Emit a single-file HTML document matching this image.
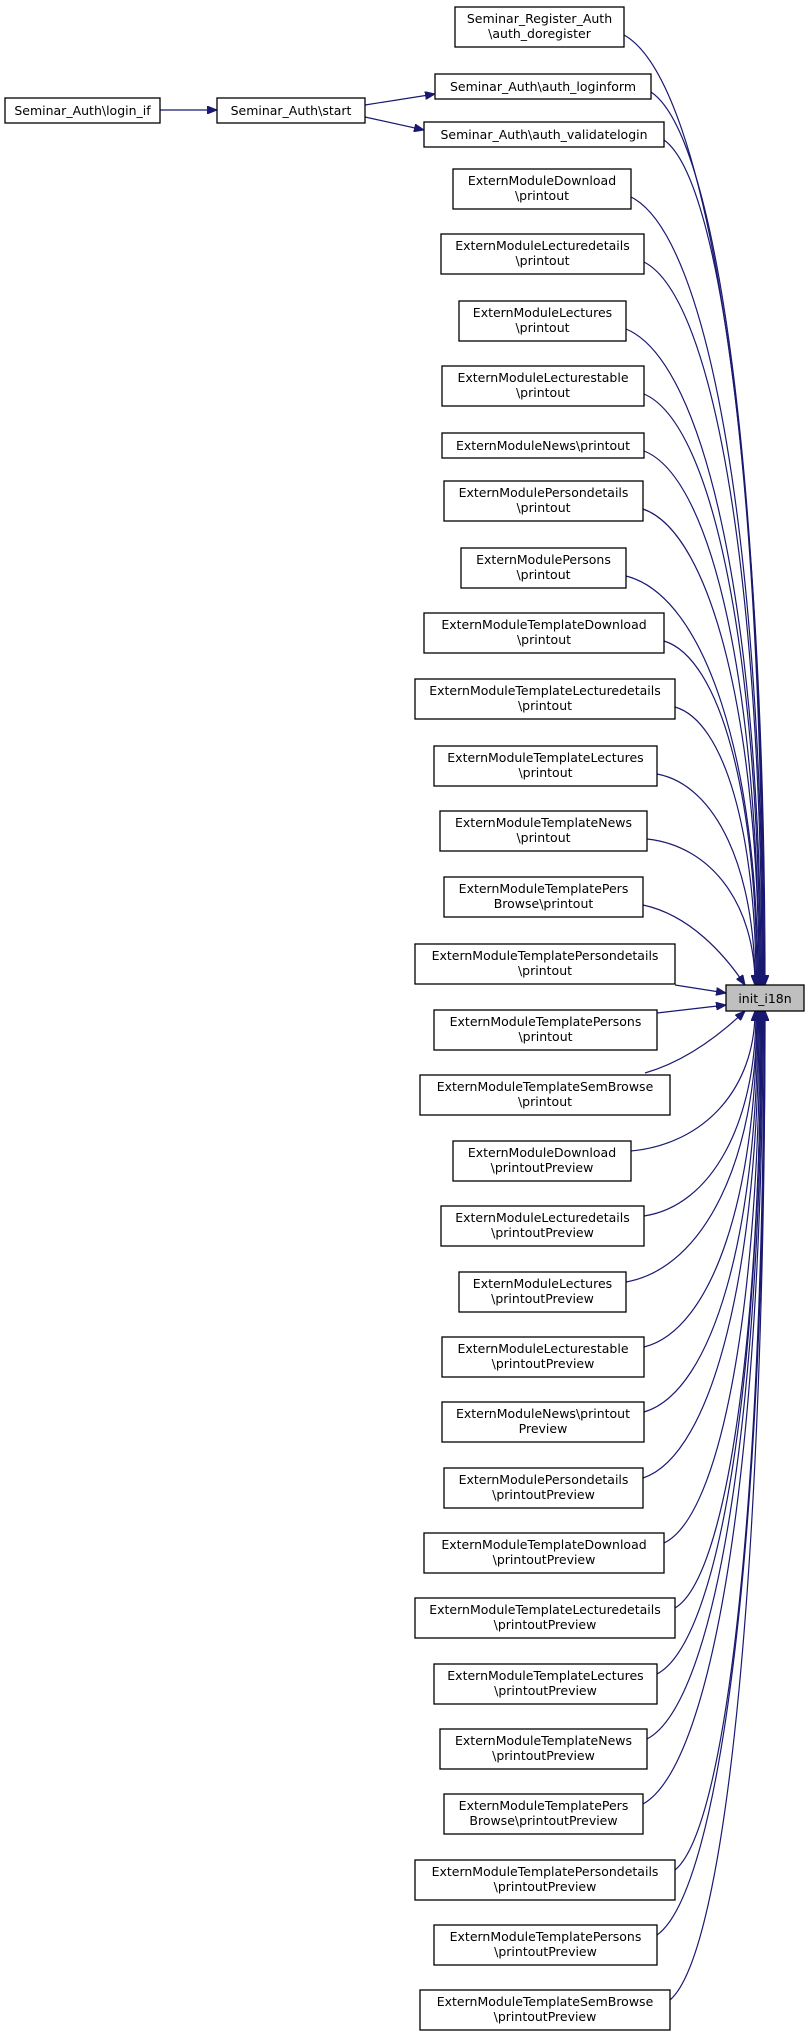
<!DOCTYPE html>
<html><head><meta charset="utf-8"><style>
html,body{margin:0;padding:0;background:#fff;}
svg{display:block;}
text{font-family:"DejaVu Sans","Liberation Sans",sans-serif;font-size:12.5px;fill:#000;text-anchor:middle;}
rect{fill:#fff;stroke:#000;stroke-width:1.3;}
path.e{fill:none;stroke:#191970;stroke-width:1.2;}
</style></head><body>
<svg width="809" height="2036" viewBox="0 0 809 2036" xmlns="http://www.w3.org/2000/svg">
<defs><marker id="a" markerUnits="userSpaceOnUse" markerWidth="11" markerHeight="8" refX="10" refY="4" orient="auto"><path d="M0,0 L10,4 L0,8 z" fill="#191970" stroke="#191970"/></marker></defs>

<!-- edges -->
<g marker-end="url(#a)">
<path class="e" d="M160,110 L217,110"/>
<path class="e" d="M365,105 L435,94"/>
<path class="e" d="M365,117 L424,130"/>
<path class="e" d="M624,35 C709,82 765,462 765,985"/>
<path class="e" d="M651,92 C719,137 764,494 764,985"/>
<path class="e" d="M664,140 C724,182 763,520 763,985"/>
<path class="e" d="M631,197 C710,236 763,552 763,985"/>
<path class="e" d="M644,262 C715,298 762,587 762,985"/>
<path class="e" d="M626,329 C707,362 761,624 761,985"/>
<path class="e" d="M644,394 C714,424 760,660 760,985"/>
<path class="e" d="M644,451 C713,478 759,691 759,985"/>
<path class="e" d="M643,509 C712,533 759,723 759,985"/>
<path class="e" d="M626,576 C705,596 758,760 758,985"/>
<path class="e" d="M664,641 C720,658 757,796 757,985"/>
<path class="e" d="M675,707 C724,721 756,832 756,985"/>
<path class="e" d="M657,774 C716,785 755,869 755,985"/>
<path class="e" d="M647,839 C712,846 755,905 755,985"/>
<path class="e" d="M643,905 C690,915 725,955 745,985"/>
<path class="e" d="M675,985 L726,993"/>
<path class="e" d="M657,1013 L726,1005"/>
<path class="e" d="M645,1073 C690,1060 725,1030 745,1011"/>
<path class="e" d="M631,1151 C705,1144 755,1088 755,1011"/>
<path class="e" d="M644,1216 C711,1206 756,1124 756,1011"/>
<path class="e" d="M626,1282 C704,1268 757,1160 757,1011"/>
<path class="e" d="M644,1347 C712,1330 757,1196 757,1011"/>
<path class="e" d="M644,1412 C713,1392 758,1232 758,1011"/>
<path class="e" d="M643,1478 C713,1455 759,1268 759,1011"/>
<path class="e" d="M664,1543 C721,1516 760,1304 760,1011"/>
<path class="e" d="M675,1608 C726,1578 761,1339 761,1011"/>
<path class="e" d="M657,1674 C720,1641 761,1376 761,1011"/>
<path class="e" d="M647,1739 C716,1703 762,1411 762,1011"/>
<path class="e" d="M643,1804 C715,1764 763,1447 763,1011"/>
<path class="e" d="M675,1870 C728,1827 764,1483 764,1011"/>
<path class="e" d="M657,1935 C722,1889 765,1519 765,1011"/>
<path class="e" d="M670,2000 C727,1951 765,1555 765,1011"/>
</g>

<!-- left nodes -->
<rect x="5" y="98" width="155" height="25"/><text x="82.5" y="115">Seminar_Auth\login_if</text>
<rect x="217" y="98" width="148" height="25"/><text x="291" y="115">Seminar_Auth\start</text>

<!-- target -->
<rect x="726" y="985" width="78" height="26" style="fill:#bfbfbf"/><text x="765" y="1003">init_i18n</text>

<!-- caller nodes -->
<rect x="455" y="7" width="169" height="40"/><text x="539.5" y="23">Seminar_Register_Auth</text><text x="539.5" y="38">\auth_doregister</text>
<rect x="435" y="74" width="216" height="25"/><text x="543" y="91">Seminar_Auth\auth_loginform</text>
<rect x="424" y="122" width="240" height="25"/><text x="544" y="139">Seminar_Auth\auth_validatelogin</text>
<rect x="453" y="169" width="178" height="40"/><text x="542" y="185">ExternModuleDownload</text><text x="542" y="200">\printout</text>
<rect x="441" y="234" width="203" height="40"/><text x="542.5" y="250">ExternModuleLecturedetails</text><text x="542.5" y="265">\printout</text>
<rect x="459" y="301" width="167" height="40"/><text x="542.5" y="317">ExternModuleLectures</text><text x="542.5" y="332">\printout</text>
<rect x="442" y="366" width="202" height="40"/><text x="543" y="382">ExternModuleLecturestable</text><text x="543" y="397">\printout</text>
<rect x="442" y="433" width="202" height="25"/><text x="543" y="450">ExternModuleNews\printout</text>
<rect x="444" y="481" width="199" height="40"/><text x="543.5" y="497">ExternModulePersondetails</text><text x="543.5" y="512">\printout</text>
<rect x="461" y="548" width="165" height="40"/><text x="543.5" y="564">ExternModulePersons</text><text x="543.5" y="579">\printout</text>
<rect x="424" y="613" width="240" height="40"/><text x="544" y="629">ExternModuleTemplateDownload</text><text x="544" y="644">\printout</text>
<rect x="415" y="679" width="260" height="40"/><text x="545" y="695">ExternModuleTemplateLecturedetails</text><text x="545" y="710">\printout</text>
<rect x="434" y="746" width="223" height="40"/><text x="545.5" y="762">ExternModuleTemplateLectures</text><text x="545.5" y="777">\printout</text>
<rect x="440" y="811" width="207" height="40"/><text x="543.5" y="827">ExternModuleTemplateNews</text><text x="543.5" y="842">\printout</text>
<rect x="444" y="877" width="199" height="40"/><text x="543.5" y="893">ExternModuleTemplatePers</text><text x="543.5" y="908">Browse\printout</text>
<rect x="415" y="944" width="260" height="40"/><text x="545" y="960">ExternModuleTemplatePersondetails</text><text x="545" y="975">\printout</text>
<rect x="434" y="1010" width="223" height="40"/><text x="545.5" y="1026">ExternModuleTemplatePersons</text><text x="545.5" y="1041">\printout</text>
<rect x="420" y="1075" width="250" height="40"/><text x="545" y="1091">ExternModuleTemplateSemBrowse</text><text x="545" y="1106">\printout</text>
<rect x="453" y="1141" width="178" height="40"/><text x="542" y="1157">ExternModuleDownload</text><text x="542" y="1172">\printoutPreview</text>
<rect x="441" y="1206" width="203" height="40"/><text x="542.5" y="1222">ExternModuleLecturedetails</text><text x="542.5" y="1237">\printoutPreview</text>
<rect x="459" y="1272" width="167" height="40"/><text x="542.5" y="1288">ExternModuleLectures</text><text x="542.5" y="1303">\printoutPreview</text>
<rect x="442" y="1337" width="202" height="40"/><text x="543" y="1353">ExternModuleLecturestable</text><text x="543" y="1368">\printoutPreview</text>
<rect x="442" y="1402" width="202" height="40"/><text x="543" y="1418">ExternModuleNews\printout</text><text x="543" y="1433">Preview</text>
<rect x="444" y="1468" width="199" height="40"/><text x="543.5" y="1484">ExternModulePersondetails</text><text x="543.5" y="1499">\printoutPreview</text>
<rect x="424" y="1533" width="240" height="40"/><text x="544" y="1549">ExternModuleTemplateDownload</text><text x="544" y="1564">\printoutPreview</text>
<rect x="415" y="1598" width="260" height="40"/><text x="545" y="1614">ExternModuleTemplateLecturedetails</text><text x="545" y="1629">\printoutPreview</text>
<rect x="434" y="1664" width="223" height="40"/><text x="545.5" y="1680">ExternModuleTemplateLectures</text><text x="545.5" y="1695">\printoutPreview</text>
<rect x="440" y="1729" width="207" height="40"/><text x="543.5" y="1745">ExternModuleTemplateNews</text><text x="543.5" y="1760">\printoutPreview</text>
<rect x="444" y="1794" width="199" height="40"/><text x="543.5" y="1810">ExternModuleTemplatePers</text><text x="543.5" y="1825">Browse\printoutPreview</text>
<rect x="415" y="1860" width="260" height="40"/><text x="545" y="1876">ExternModuleTemplatePersondetails</text><text x="545" y="1891">\printoutPreview</text>
<rect x="434" y="1925" width="223" height="40"/><text x="545.5" y="1941">ExternModuleTemplatePersons</text><text x="545.5" y="1956">\printoutPreview</text>
<rect x="420" y="1990" width="250" height="40"/><text x="545" y="2006">ExternModuleTemplateSemBrowse</text><text x="545" y="2021">\printoutPreview</text>
</svg>
</body></html>
